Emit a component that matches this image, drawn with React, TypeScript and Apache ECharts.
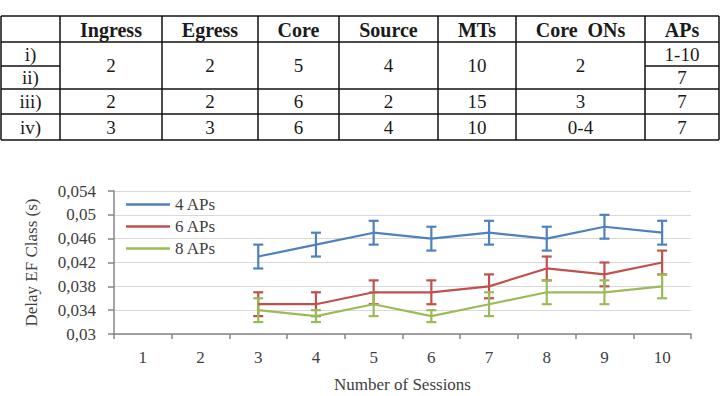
import React, { useEffect, useRef } from 'react';
import * as echarts from 'echarts';

// ---------- chart data ----------
const sessions = ['1', '2', '3', '4', '5', '6', '7', '8', '9', '10'];
const seriesNames = ['4 APs', '6 APs', '8 APs'];
const delay4APs = [null, null, 0.043, 0.045, 0.047, 0.046, 0.047, 0.046, 0.048, 0.047];
const delay6APs = [null, null, 0.035, 0.035, 0.037, 0.037, 0.038, 0.041, 0.040, 0.042];
const delay8APs = [null, null, 0.034, 0.033, 0.035, 0.033, 0.035, 0.037, 0.037, 0.038];
const err4APs = [null, null, 0.002, 0.002, 0.002, 0.002, 0.002, 0.002, 0.002, 0.002];
const err6APs = [null, null, 0.002, 0.002, 0.002, 0.002, 0.002, 0.002, 0.002, 0.002];
const err8APs = [null, null, 0.002, 0.001, 0.002, 0.001, 0.002, 0.002, 0.002, 0.002];
const yMin = 0.03;
const yMax = 0.054;
const yStep = 0.004;

// ---------- table data ----------
const tableHeader = ['', 'Ingress', 'Egress', 'Core', 'Source', 'MTs', 'Core  ONs', 'APs'];
const rowLabels = ['i)', 'ii)', 'iii)', 'iv)'];
const rowsOneTwo = ['2', '2', '5', '4', '10', '2'];
const apsRowOne = '1-10';
const apsRowTwo = '7';
const rowThree = ['2', '2', '6', '2', '15', '3', '7'];
const rowFour = ['3', '3', '6', '4', '10', '0-4', '7'];

const colors = ['#4f81bd', '#c0504d', '#9bbb59'];
const SERIF = 'Liberation Serif';

function buildTable() {
  const colX = [1, 60, 162, 258, 339, 438, 516, 645, 719];
  const rowY = [16, 42, 66, 89, 114, 140];
  const els: any[] = [];
  const line = (x1: number, y1: number, x2: number, y2: number) =>
    els.push({ type: 'line', silent: true, shape: { x1, y1, x2, y2 }, style: { stroke: '#111', lineWidth: 1.5 } });
  const text = (t: string, x: number, y: number, bold = false) =>
    els.push({
      type: 'text', silent: true,
      style: {
        text: t, x, y, align: 'center', verticalAlign: 'middle',
        fontFamily: SERIF, fontSize: bold ? 20 : 19, fontWeight: bold ? 'bold' : 'normal',
        fill: '#1a1a1a',
      },
    });
  [0, 1, 3, 4, 5].forEach((r) => line(colX[0], rowY[r], colX[8], rowY[r]));
  line(colX[0], rowY[2], colX[1], rowY[2]);
  line(colX[7], rowY[2], colX[8], rowY[2]);
  colX.forEach((x) => line(x, rowY[0], x, rowY[5]));
  const cx = (c: number) => (colX[c] + colX[c + 1]) / 2;
  const cy = (a: number, b: number) => (rowY[a] + rowY[b]) / 2;
  tableHeader.forEach((h, c) => { if (h) text(h, cx(c), cy(0, 1) + 1, true); });
  text(rowLabels[0], cx(0), cy(1, 2));
  text(rowLabels[1], cx(0), cy(2, 3));
  text(rowLabels[2], cx(0), cy(3, 4));
  text(rowLabels[3], cx(0), cy(4, 5));
  rowsOneTwo.forEach((v, i) => text(v, cx(i + 1), cy(1, 3)));
  text(apsRowOne, cx(7), cy(1, 2));
  text(apsRowTwo, cx(7), cy(2, 3));
  rowThree.forEach((v, i) => text(v, cx(i + 1), cy(3, 4)));
  rowFour.forEach((v, i) => text(v, cx(i + 1), cy(4, 5)));
  return els;
}

function errorData(values: (number | null)[], errs: (number | null)[]) {
  const out: number[][] = [];
  values.forEach((v, i) => {
    const e = errs[i];
    if (v != null && e != null) out.push([i, v - e, v + e]);
  });
  return out;
}

function errorSeries(name: string, color: string, data: number[][]) {
  return {
    type: 'custom',
    name,
    data,
    encode: { x: 0, y: [1, 2] },
    renderItem: (_params: any, api: any) => {
      const x = api.value(0);
      const top = api.coord([x, api.value(2)]);
      const bot = api.coord([x, api.value(1)]);
      const w = 5;
      const style = { stroke: color, lineWidth: 2.2 };
      return {
        type: 'group',
        children: [
          { type: 'line', shape: { x1: top[0], y1: top[1], x2: bot[0], y2: bot[1] }, style },
          { type: 'line', shape: { x1: top[0] - w, y1: top[1], x2: top[0] + w, y2: top[1] }, style },
          { type: 'line', shape: { x1: bot[0] - w, y1: bot[1], x2: bot[0] + w, y2: bot[1] }, style },
        ],
      };
    },
  };
}

export default function App() {
  const ref = useRef<HTMLDivElement>(null);
  useEffect(() => {
    document.body.style.margin = '0';
    if (!ref.current) return;
    const chart = echarts.init(ref.current, null, { renderer: 'svg' });
    const values = [delay4APs, delay6APs, delay8APs];
    const errs = [err4APs, err6APs, err8APs];
    const series: any[] = [];
    seriesNames.forEach((n, i) => {
      series.push({
        type: 'line',
        name: n,
        data: values[i],
        symbol: 'none',
        lineStyle: { width: 2.2, color: colors[i] },
        itemStyle: { color: colors[i] },
      });
      series.push(errorSeries(n + ' error', colors[i], errorData(values[i], errs[i])));
    });
    chart.setOption({
      animation: false,
      backgroundColor: '#fff',
      textStyle: { fontFamily: SERIF },
      graphic: buildTable(),
      grid: { left: 114, right: 33, top: 191, bottom: 62, containLabel: false },
      legend: {
        data: seriesNames.map((n) => ({ name: n, icon: 'rect' })),
        orient: 'vertical',
        left: 126,
        top: 196,
        padding: 0,
        itemWidth: 44,
        itemHeight: 2.5,
        itemGap: 5,
        textStyle: { fontFamily: SERIF, fontSize: 17, color: '#404040' },
      },
      xAxis: {
        type: 'category',
        data: sessions,
        boundaryGap: true,
        name: 'Number of Sessions',
        nameLocation: 'middle',
        nameGap: 42,
        nameTextStyle: { fontFamily: SERIF, fontSize: 17, color: '#404040' },
        axisLine: { lineStyle: { color: '#868686', width: 1.5 } },
        axisTick: { show: true, length: 5, lineStyle: { color: '#868686', width: 1.5 } },
        axisLabel: { fontFamily: SERIF, fontSize: 17, color: '#404040', margin: 15 },
      },
      yAxis: {
        type: 'value',
        min: yMin,
        max: yMax,
        interval: yStep,
        name: 'Delay EF Class (s)',
        nameLocation: 'middle',
        nameGap: 74,
        nameTextStyle: { fontFamily: SERIF, fontSize: 17, color: '#404040' },
        axisLine: { show: true, lineStyle: { color: '#868686', width: 1.5 } },
        axisTick: { show: true, length: 6, lineStyle: { color: '#868686', width: 1.5 } },
        splitLine: { lineStyle: { color: '#d9d9d9', width: 1 } },
        axisLabel: {
          fontFamily: SERIF, fontSize: 17, color: '#404040', margin: 18,
          formatter: (v: number) => String(+v.toFixed(3)).replace('.', ','),
        },
      },
      series,
    });
    return () => chart.dispose();
  }, []);
  return <div ref={ref} style={{ width: 724, height: 396 }} />;
}
